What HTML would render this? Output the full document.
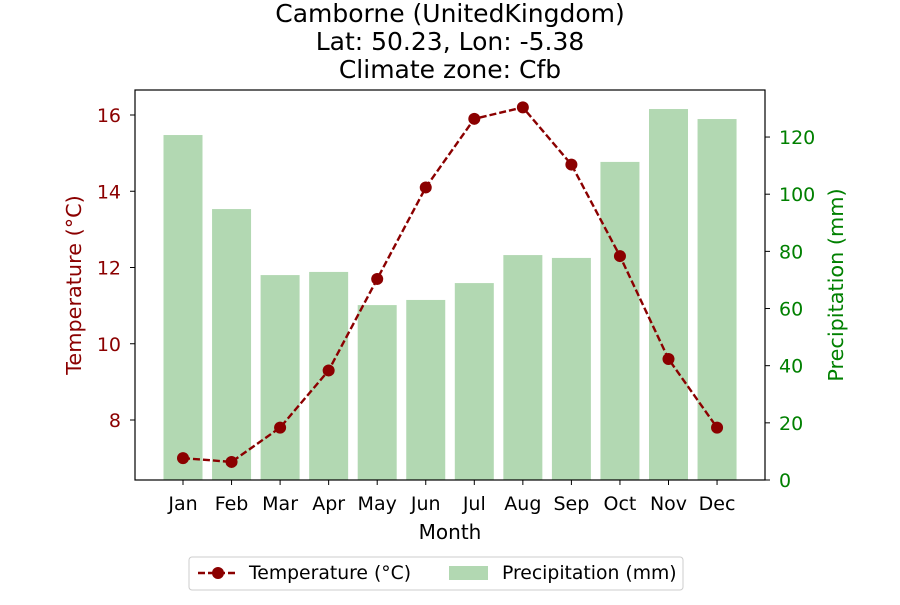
<!DOCTYPE html>
<html><head><meta charset="utf-8"><style>
body{margin:0;background:#fff;font-family:"Liberation Sans","DejaVu Sans",sans-serif;}
</style></head><body>
<svg id="chart" width="900" height="600" xmlns="http://www.w3.org/2000/svg" font-family="DejaVu Sans, Liberation Sans, sans-serif">
<g font-size="25" text-anchor="middle" fill="#000">
<text x="450" y="22">Camborne (UnitedKingdom)</text>
<text x="450" y="50">Lat: 50.23, Lon: -5.38</text>
<text x="450" y="78">Climate zone: Cfb</text>
</g>
<g id="bars"></g>
<g id="line"></g>
<rect x="135" y="90" width="630" height="390" fill="none" stroke="#000" stroke-width="1.2"/>
<g id="xaxis"></g>
<g id="yleft"></g>
<g id="yright"></g>
<text x="450" y="539" font-size="20" text-anchor="middle">Month</text>
<text transform="translate(81,285) rotate(-90)" font-size="20.8" text-anchor="middle" fill="#8b0000">Temperature (°C)</text>
<text transform="translate(843,285) rotate(-90)" font-size="20.8" text-anchor="middle" fill="#008000">Precipitation (mm)</text>
<g>
<rect x="189" y="557" width="494" height="33" fill="#fff" stroke="#ccc" rx="3"/>
<line x1="198" y1="573" x2="238" y2="573" stroke="#8b0000" stroke-width="2.4" stroke-dasharray="7,3"/>
<circle cx="218" cy="573" r="6" fill="#8b0000"/>
<text x="249" y="579" font-size="18.8">Temperature (°C)</text>
<rect x="449" y="566" width="39" height="14" fill="#b2d8b2"/>
<text x="502" y="579" font-size="18.8">Precipitation (mm)</text>
</g>
</svg>
<script>
const months=["Jan","Feb","Mar","Apr","May","Jun","Jul","Aug","Sep","Oct","Nov","Dec"];
const temperature=[7.0,6.9,7.8,9.3,11.7,14.1,15.9,16.2,14.7,12.3,9.6,7.8];
const precipitation=[120.7,94.8,71.7,72.8,61.2,63.0,68.9,78.7,77.7,111.3,129.8,126.3];
const tempTicks=[8,10,12,14,16];
const precipTicks=[0,20,40,60,80,100,120];
const NS="http://www.w3.org/2000/svg";
const xs=i=>183+48.55*i;
const yT=v=>420-(v-8)*38.125;
const yP=v=>480-v*2.858;
function mk(tag,attrs,parent){const e=document.createElementNS(NS,tag);for(const k in attrs)e.setAttribute(k,attrs[k]);parent.appendChild(e);return e;}
const bars=document.getElementById('bars');
precipitation.forEach((v,i)=>{const r=mk('rect',{x:xs(i)-19.5,y:yP(v),width:39,height:480-yP(v),fill:'#b2d8b2'},bars);

});
const line=document.getElementById('line');
const pl=mk('polyline',{points:temperature.map((v,i)=>xs(i)+','+yT(v)).join(' '),fill:'none',stroke:'#8b0000','stroke-width':2.4,'stroke-dasharray':'7,3'},line);


temperature.forEach((v,i)=>{const c=mk('circle',{cx:xs(i),cy:yT(v),r:6,fill:'#8b0000'},line);

});
const xa=document.getElementById('xaxis');
months.forEach((m,i)=>{mk('line',{x1:xs(i),x2:xs(i),y1:480,y2:485,stroke:'#000'},xa);
const t=mk('text',{x:xs(i),y:510,'font-size':19,'text-anchor':'middle'},xa);t.textContent=m;

});
const yl=document.getElementById('yleft');
tempTicks.forEach(v=>{mk('line',{x1:130,x2:135,y1:yT(v),y2:yT(v),stroke:'#000'},yl);
const t=mk('text',{x:121,y:yT(v)+7,'font-size':19,'text-anchor':'end',fill:'#8b0000'},yl);t.textContent=v;

});
const yr=document.getElementById('yright');
precipTicks.forEach(v=>{mk('line',{x1:765,x2:770,y1:yP(v),y2:yP(v),stroke:'#000'},yr);
const t=mk('text',{x:779,y:yP(v)+7,'font-size':19,'text-anchor':'start',fill:'#008000'},yr);t.textContent=v;

});
</script>
</body></html>
